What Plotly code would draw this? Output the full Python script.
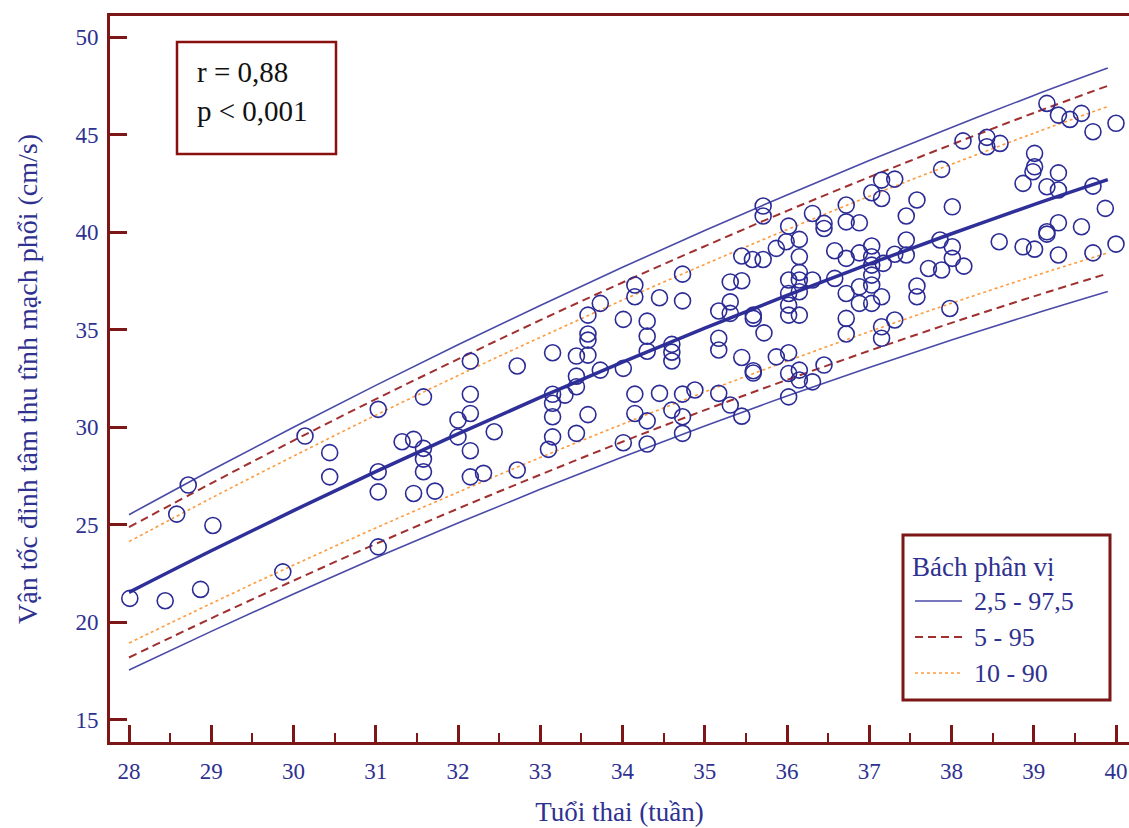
import plotly.graph_objects as go

# Gestational age (weeks) and measured peak systolic velocity (cm/s)
age_weeks = [
    28.01, 28.44, 28.58, 28.72, 28.87, 29.02, 29.87, 30.14, 30.44, 30.44,
    31.03, 31.03, 31.03, 31.03, 31.32, 31.46, 31.58, 31.58, 31.58, 31.46,
    31.72, 31.58, 32.15, 32.72, 32.15, 32.15, 32.00, 32.00, 32.44, 32.15,
    32.15, 32.31, 32.72, 33.15, 33.44, 33.58, 33.58, 33.58, 33.73, 33.58,
    34.15, 34.15, 34.45, 34.73, 34.73, 34.01, 34.30, 34.30, 34.30, 34.60,
    34.60, 34.60, 35.17, 35.31, 35.31, 35.45, 35.45, 35.31, 35.17, 35.17,
    35.45, 33.73, 34.01, 33.44, 33.44, 33.30, 33.15, 33.15, 33.15, 33.15,
    33.10, 33.58, 33.44, 34.15, 34.45, 34.73, 34.88, 35.17, 35.31, 35.45,
    34.15, 34.30, 34.60, 34.73, 34.73, 34.01, 34.30,
    35.71, 35.71, 36.31, 36.45, 36.45, 36.72, 36.72, 36.88, 37.03, 37.15,
    37.15, 37.31, 37.45, 37.58, 36.02, 35.58, 35.71, 35.87, 35.99, 36.15,
    36.15, 36.15, 36.15, 36.02, 36.31, 36.02, 36.15, 36.02, 36.02, 36.15,
    36.58, 36.72, 36.88, 37.03, 37.03, 37.03, 37.17, 37.31, 37.45, 37.45,
    37.03, 37.03, 36.88, 36.88, 36.72, 36.58, 37.15, 37.03, 37.72, 37.88,
    37.58, 37.58, 37.86, 37.98, 36.72, 36.72, 37.15, 37.15, 37.31, 35.59,
    35.59, 35.72, 35.59, 35.59, 35.87, 36.02, 36.02, 36.15, 36.15, 36.31,
    36.45, 36.02,
    39.16, 39.30, 39.44, 39.58, 39.72, 40.00, 38.14, 38.43, 38.43, 38.59,
    37.88, 39.01, 39.01, 38.99, 39.30, 38.87, 39.16, 39.30, 39.72, 38.01,
    39.87, 38.01, 38.01, 38.15, 38.58, 38.87, 39.01, 39.16, 39.16, 39.30,
    39.58, 39.30, 39.72, 40.00,
]
velocity = [
    21.23, 21.11, 25.55, 27.04, 21.69, 24.97, 22.59, 29.55, 28.70, 27.46,
    30.92, 27.72, 26.69, 23.87, 29.26, 29.38, 28.92, 28.37, 27.72, 26.61,
    26.73, 31.56, 33.39, 33.14, 31.69, 30.71, 30.37, 29.51, 29.77, 28.80,
    27.46, 27.64, 27.81, 33.82, 33.65, 34.78, 34.47, 33.70, 36.35, 35.75,
    37.29, 36.69, 36.64, 37.85, 36.48, 35.53, 35.44, 34.67, 33.90, 34.25,
    33.85, 33.40, 35.96, 36.43, 37.45, 37.51, 38.78, 35.84, 34.56, 33.96,
    33.58, 32.93, 33.02, 32.62, 32.08, 31.65, 31.69, 31.23, 30.54, 29.51,
    28.87, 30.65, 29.69, 31.70, 31.74, 31.70, 31.91, 31.74, 31.14, 30.57,
    30.71, 30.33, 30.88, 30.54, 29.69, 29.21, 29.14,
    41.34, 40.83, 40.96, 40.45, 40.19, 41.39, 40.53, 40.48, 42.02, 41.73,
    42.67, 42.72, 40.83, 41.65, 40.31, 38.60, 38.60, 39.17, 39.51, 39.63,
    38.74, 37.94, 37.55, 37.55, 37.55, 36.86, 36.95, 36.26, 35.75, 35.75,
    39.05, 38.66, 38.94, 39.29, 38.74, 38.31, 38.40, 38.87, 39.60, 38.83,
    37.80, 37.29, 37.20, 36.35, 36.86, 37.63, 36.69, 36.35, 38.14, 38.06,
    37.24, 36.69, 39.60, 36.09, 35.58, 34.78, 35.15, 34.56, 35.50, 35.75,
    35.58, 34.84, 32.90, 32.78, 33.61, 33.82, 32.76, 32.93, 32.42, 32.33,
    33.19, 31.56,
    46.60, 46.00, 45.78, 46.09, 45.15, 45.58, 44.68, 44.86, 44.38, 44.55,
    43.22, 44.04, 43.35, 43.10, 43.04, 42.50, 42.33, 42.16, 42.36, 41.30,
    41.22, 39.25, 38.66, 38.26, 39.51, 39.25, 39.13, 40.02, 39.90, 40.48,
    40.28, 38.83, 38.94, 39.39,
]

# Reference curves (mean and percentile limits) by week
curve_weeks = [28, 29, 30, 31, 32, 33, 34, 35, 36, 37, 38, 39, 39.9]
mean_curve = [21.54, 23.67, 25.73, 27.73, 29.66, 31.53, 33.34, 35.08, 36.76, 38.37, 39.92, 41.41, 42.69]
p97_5 = [25.52, 27.80, 30.00, 32.15, 34.23, 36.24, 38.20, 40.09, 41.91, 43.67, 45.37, 47.01, 48.41]
p2_5 = [17.56, 19.54, 21.46, 23.31, 25.09, 26.82, 28.48, 30.07, 31.61, 33.07, 34.47, 35.81, 36.96]
p95 = [24.88, 27.13, 29.32, 31.44, 33.49, 35.49, 37.42, 39.28, 41.09, 42.82, 44.49, 46.11, 47.50]
p5 = [18.20, 20.21, 22.14, 24.02, 25.83, 27.57, 29.26, 30.88, 32.43, 33.92, 35.35, 36.71, 37.88]
p90 = [24.14, 26.37, 28.52, 30.62, 32.65, 34.61, 36.52, 38.35, 40.13, 41.84, 43.48, 45.07, 46.44]
p10 = [18.94, 20.97, 22.94, 24.84, 26.67, 28.45, 30.16, 31.81, 33.39, 34.90, 36.36, 37.75, 38.94]

x_ticks = list(range(28, 41))
y_ticks = [15, 20, 25, 30, 35, 40, 45, 50]

legend_title = "Bách phân vị"
band_names = ["2,5 - 97,5", "5 - 95", "10 - 90"]

NAVY = "#2e3190"
LINE_BLUE = "#4a4aa8"
MAROON = "#7d1717"
DASH_RED = "#a03030"
ORANGE = "#ff9a3c"
FONT = "Liberation Serif"

# Plot-area geometry in pixels (used to place the boxed texts)
W, H = 1129, 828
ML, MR, MT, MB = 110, 0, 16, 86
PW, PH = W - ML - MR, H - MT - MB


def px(xp):
    return (xp - ML) / PW


def py(yp):
    return 1 - (yp - MT) / PH


fig = go.Figure()

band_styles = [
    dict(color=LINE_BLUE, width=1.6),
    dict(color=DASH_RED, width=2, dash="8px,5px"),
    dict(color=ORANGE, width=1.6, dash="dot"),
]
for name, upper, lower, style in zip(band_names, [p97_5, p95, p90], [p2_5, p5, p10], band_styles):
    for series in (upper, lower):
        fig.add_trace(go.Scatter(x=curve_weeks, y=series, mode="lines", name=name,
                                 line=dict(shape="spline", **style), showlegend=False,
                                 hoverinfo="skip"))

fig.add_trace(go.Scatter(x=curve_weeks, y=mean_curve, mode="lines", showlegend=False,
                         line=dict(color="#2f2f9a", width=3.5, shape="spline")))

fig.add_trace(go.Scatter(
    x=age_weeks, y=velocity, mode="markers", showlegend=False,
    marker=dict(symbol="circle-open", size=16, color="#2b2b95", line=dict(width=1.6)),
))

fig.update_layout(
    width=W, height=H,
    margin=dict(l=ML, r=MR, t=MT, b=MB),
    plot_bgcolor="white", paper_bgcolor="white",
    font=dict(family=FONT, color=NAVY),
    showlegend=False,
    xaxis=dict(
        range=[27.769, 40.158], tickvals=x_ticks, ticks="inside", ticklen=17,
        tickwidth=2.5, tickcolor=MAROON, showline=True, linecolor=MAROON, linewidth=3,
        mirror=True, showgrid=False, zeroline=False,
        tickfont=dict(size=23, color=NAVY, family=FONT), ticklabelstandoff=6,
        minor=dict(tick0=28.5, dtick=1, ticks="inside", ticklen=9, tickwidth=1.8,
                   tickcolor=MAROON, showgrid=False),
        title=dict(text="Tuổi thai (tuần)", font=dict(size=27, color=NAVY, family=FONT),
                   standoff=20),
    ),
    yaxis=dict(
        range=[13.87, 51.08], tickvals=y_ticks, ticks="inside", ticklen=17,
        tickwidth=2.5, tickcolor=MAROON, showline=True, linecolor=MAROON, linewidth=3,
        showgrid=False, zeroline=False,
        tickfont=dict(size=23, color=NAVY, family=FONT), ticklabelstandoff=4,
        title=dict(text="Vận tốc đỉnh tâm thu tĩnh mạch phổi (cm/s)",
                   font=dict(size=28, color=NAVY, family=FONT), standoff=30),
    ),
)

# Correlation statistics box
fig.add_shape(type="rect", xref="paper", yref="paper",
              x0=px(177), x1=px(336), y0=py(154), y1=py(42),
              line=dict(color="#8a1010", width=2.5), fillcolor="white", layer="above")
for text, ypix in [("r = 0,88", 72), ("p < 0,001", 111)]:
    fig.add_annotation(xref="paper", yref="paper", x=px(195), y=py(ypix),
                       xanchor="left", yanchor="middle", text=text, showarrow=False,
                       font=dict(size=29, color="#111111", family=FONT))

# Percentile key
fig.add_shape(type="rect", xref="paper", yref="paper",
              x0=px(903), x1=px(1110), y0=py(700), y1=py(535),
              line=dict(color=MAROON, width=3), fillcolor="white", layer="above")
fig.add_annotation(xref="paper", yref="paper", x=px(910), y=py(567),
                   xanchor="left", yanchor="middle", text=legend_title, showarrow=False,
                   font=dict(size=27, color=NAVY, family=FONT))
for name, style, ypix in zip(band_names, band_styles, [601, 637, 673]):
    fig.add_shape(type="line", xref="paper", yref="paper",
                  x0=px(915), x1=px(962), y0=py(ypix), y1=py(ypix),
                  line=style, layer="above")
    fig.add_annotation(xref="paper", yref="paper", x=px(972), y=py(ypix),
                       xanchor="left", yanchor="middle", text=name, showarrow=False,
                       font=dict(size=26, color=NAVY, family=FONT))

fig.write_html("out.html")
